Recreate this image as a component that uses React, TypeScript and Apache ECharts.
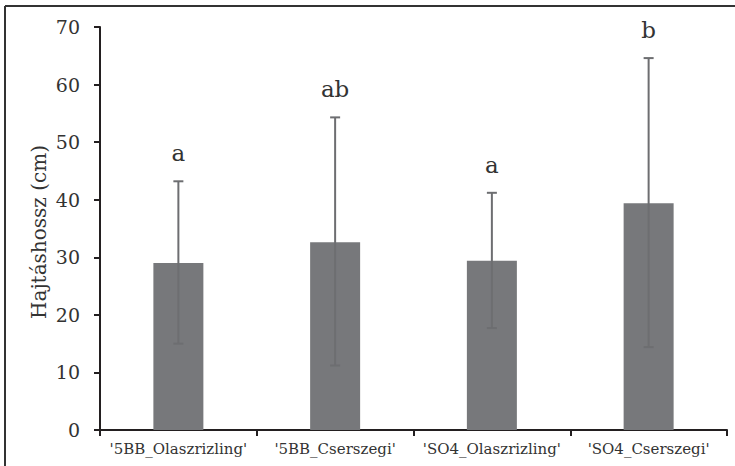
import React, { useEffect, useRef } from "react";
import * as echarts from "echarts";

const categories = ["'5BB_Olaszrizling'", "'5BB_Cserszegi'", "'SO4_Olaszrizling'", "'SO4_Cserszegi'"];
const means = [29.0, 32.6, 29.4, 39.4];
const errLow = [15.0, 11.2, 17.7, 14.4];
const errHigh = [43.2, 54.3, 41.2, 64.6];
const letters = ["a", "ab", "a", "b"];
const yTicks = { min: 0, max: 70, interval: 10 };

const FONT = "DejaVu Serif";
const TEXT = "#333333";

export default function App() {
  const ref = useRef<HTMLDivElement>(null);
  useEffect(() => {
    document.body.style.margin = "0";
    const chart = echarts.init(ref.current!, null, { renderer: "svg" });
    const errData = categories.map((_, i) => [i, errLow[i], errHigh[i]]);
    chart.setOption({
      animation: false,
      backgroundColor: "#ffffff",
      textStyle: { fontFamily: FONT },
      grid: { left: 100, right: 8, top: 27, bottom: 36 },
      xAxis: {
        type: "category",
        data: categories,
        axisLine: { lineStyle: { color: "#231f20", width: 2 } },
        axisTick: { show: true, length: 6, lineStyle: { color: "#231f20", width: 2 } },
        axisLabel: { color: TEXT, fontFamily: FONT, fontSize: 15, margin: 11, interval: 0 },
      },
      yAxis: {
        type: "value",
        min: yTicks.min,
        max: yTicks.max,
        interval: yTicks.interval,
        splitLine: { show: false },
        axisLine: { show: true, lineStyle: { color: "#231f20", width: 2 } },
        axisTick: { show: true, length: 6, lineStyle: { color: "#231f20", width: 2 } },
        axisLabel: { color: TEXT, fontFamily: FONT, fontSize: 19, margin: 20 },
      },
      graphic: [
        {
          type: "text",
          x: 39,
          y: 232,
          rotation: Math.PI / 2,
          style: {
            text: "Hajtáshossz (cm)",
            fill: TEXT,
            fontFamily: FONT,
            fontSize: 20,
            align: "center",
            verticalAlign: "middle",
          },
        },
        {
          type: "line",
          shape: { x1: 5, y1: 6, x2: 735, y2: 6 },
          style: { stroke: "#333333", lineWidth: 2 },
        },
        {
          type: "line",
          shape: { x1: 5, y1: 6, x2: 5, y2: 466 },
          style: { stroke: "#333333", lineWidth: 2 },
        },
      ],
      series: [
        {
          type: "bar",
          data: means,
          barWidth: 50,
          itemStyle: { color: "#77787b" },
        },
        {
          type: "custom",
          data: errData,
          z: 10,
          renderItem: (params: any, api: any) => {
            const x = api.value(0);
            const lo = api.coord([x, api.value(1)]);
            const hi = api.coord([x, api.value(2)]);
            const cap = 5;
            const style = { stroke: "#6d6e71", lineWidth: 2 };
            return {
              type: "group",
              children: [
                { type: "line", shape: { x1: hi[0], y1: hi[1], x2: lo[0], y2: lo[1] }, style },
                { type: "line", shape: { x1: hi[0] - cap, y1: hi[1], x2: hi[0] + cap, y2: hi[1] }, style },
                { type: "line", shape: { x1: lo[0] - cap, y1: lo[1], x2: lo[0] + cap, y2: lo[1] }, style },
                {
                  type: "text",
                  x: hi[0],
                  y: hi[1] - 28,
                  style: {
                    text: letters[params.dataIndex],
                    fill: TEXT,
                    fontFamily: FONT,
                    fontSize: 23,
                    align: "center",
                    verticalAlign: "middle",
                  },
                },
              ],
            };
          },
        },
      ],
    });
    return () => chart.dispose();
  }, []);
  return <div ref={ref} style={{ width: 735, height: 466 }} />;
}
